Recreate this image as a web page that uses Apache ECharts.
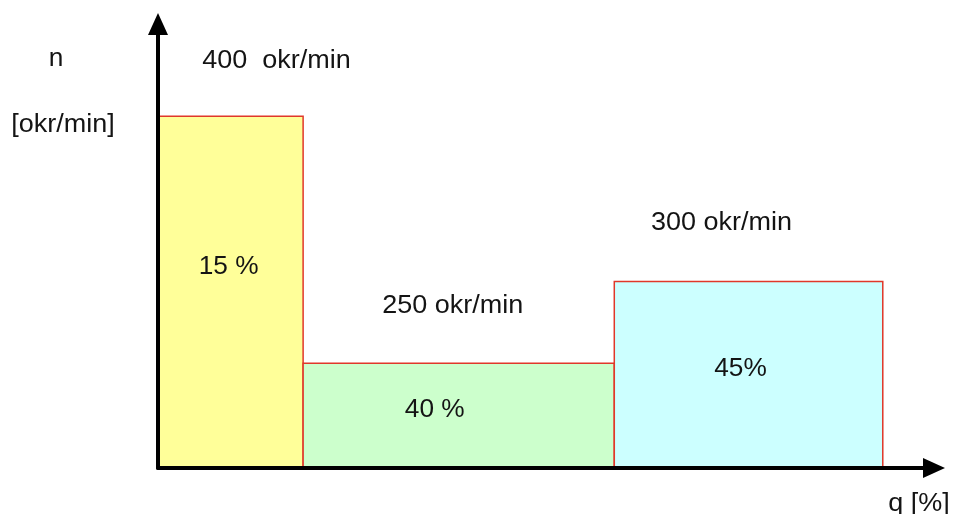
<!DOCTYPE html>
<html>
<head>
<meta charset="utf-8">
<script src="https://cdn.jsdelivr.net/npm/echarts@6/dist/echarts.min.js"></script>
<style>
html,body{margin:0;padding:0;background:#fff;}
#c{width:953px;height:514px;}
</style>
</head>
<body>
<div id="c"></div>
<script>
// Data read from the (schematic) picture
const segStart = [0, 18.7, 58.8];          // q-axis start of each block (drawn units)
const segEnd   = [18.7, 58.8, 93.4];       // q-axis end of each block
const drawnHeight = [400, 119, 212];       // drawn block heights (n-axis units)
const speeds = [400, 250, 300];            // okr/min
const speedGap = ['  ', ' ', ' '];
const shares = ['15 %', '40 %', '45%'];

const fills = ['#FFFF99', '#CCFFCC', '#CCFFFF'];
const shareOffset = [[-2, -25], [-24, -6], [-8, -6]];
const speedOffset = [[46, -55], [-6, -57], [-27, -58]];

const FONT = '"Liberation Sans", Arial, sans-serif';
const TXT = '#141414';

const data = segStart.map((s, i) => [s, segEnd[i], drawnHeight[i], i]);

const chart = echarts.init(document.getElementById('c'), null, {renderer: 'canvas'});

function txt(x, y, text, sx) {
  return {
    type: 'text', x: x, y: y, scaleX: sx || 1.05, scaleY: 1,
    style: {text: text, x: 0, y: 0, fontSize: 25, fontFamily: FONT, fill: TXT,
            align: 'center', verticalAlign: 'middle'}
  };
}

const axisLine = {show: true, lineStyle: {color: '#000', width: 4},
                  symbol: ['none', 'triangle'], symbolSize: [20, 22], symbolOffset: [0, 0]};

chart.setOption({
  animation: false,
  grid: {left: 158, right: 19, top: 24, bottom: 46},
  xAxis: {
    type: 'value', min: 0, max: 100, z: 3,
    axisLine: axisLine,
    axisTick: {show: false}, axisLabel: {show: false}, splitLine: {show: false}
  },
  yAxis: {
    type: 'value', min: 0, max: 505, z: 3,
    axisLine: axisLine,
    axisTick: {show: false}, axisLabel: {show: false}, splitLine: {show: false}
  },
  graphic: [
    txt(56, 59, 'n'),
    txt(63, 125, '[okr/min]', 1.08),
    txt(919, 504, 'q [%]', 1.08)
  ],
  series: [{
    type: 'custom',
    data: data,
    encode: {x: [0, 1], y: 2},
    renderItem: function (params, api) {
      const i = api.value(3);
      const p0 = api.coord([api.value(0), 0]);
      const p1 = api.coord([api.value(1), api.value(2)]);
      const x = p0[0], y = p1[1], w = p1[0] - p0[0], h = p0[1] - p1[1];
      const cx = x + w / 2, cy = y + h / 2;
      return {
        type: 'group',
        children: [
          {type: 'rect', shape: {x: x, y: y, width: w, height: h},
           style: {fill: fills[i], stroke: '#e0382a', lineWidth: 1.5}},
          txt(cx + shareOffset[i][0], cy + shareOffset[i][1], shares[i]),
          txt(cx + speedOffset[i][0], y + speedOffset[i][1], speeds[i] + speedGap[i] + 'okr/min', 1.08)
        ]
      };
    }
  }]
});
</script>
</body>
</html>
